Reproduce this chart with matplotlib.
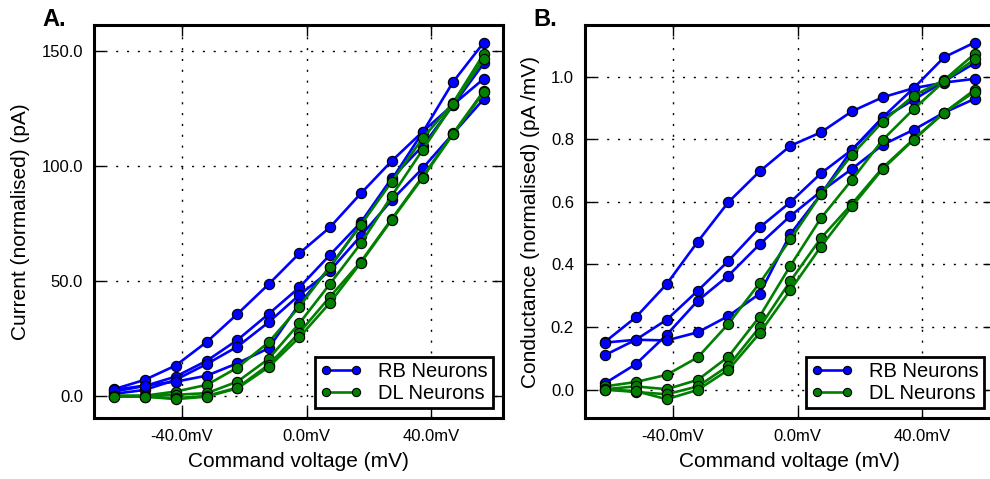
import matplotlib
matplotlib.use("Agg")
from matplotlib import pyplot as plt

plt.rcParams['font.family'] = ['Liberation Sans', 'DejaVu Sans']

# command voltages (mV)
voltaje = [-61.8, -51.9, -42.0, -32.0, -22.2, -12.2, -2.3, 7.5, 17.4, 27.3, 37.2, 47.0, 56.8]

# current (normalised), RB neurons
rb_corriente = [
    [2.9, 7.0, 13.2, 23.5, 35.6, 48.5, 62.0, 73.3, 88.0, 102.1, 114.8, 126.6, 137.8],
    [1.9, 4.3, 8.4, 15.3, 24.3, 35.6, 47.2, 61.3, 75.4, 94.6, 108.6, 126.3, 144.5],
    [0.9, 2.6, 7.0, 13.9, 21.4, 32.0, 43.9, 54.4, 69.6, 85.1, 98.9, 114.0, 129.0],
    [2.6, 4.5, 6.2, 8.8, 14.2, 20.7, 40.0, 56.0, 74.5, 94.0, 114.5, 136.5, 153.5],
]
# current (normalised), DL neurons
dl_corriente = [
    [0.0, 0.1, 1.9, 4.8, 12.3, 23.3, 38.8, 56.2, 74.3, 93.1, 111.9, 127.4, 148.6],
    [0.0, 0.0, 0.5, 1.2, 6.2, 16.1, 31.6, 48.7, 66.3, 86.9, 106.9, 126.8, 146.4],
    [0.0, -0.3, -1.0, 0.0, 3.6, 13.5, 27.5, 43.1, 58.3, 76.9, 95.3, 114.1, 132.5],
    [-0.3, -0.3, -1.4, -0.3, 3.3, 12.5, 25.5, 40.5, 57.9, 76.5, 94.8, 113.8, 131.9],
]

# conductance (normalised), RB neurons
rb_conductancia = [
    [0.152, 0.231, 0.337, 0.473, 0.599, 0.697, 0.779, 0.822, 0.889, 0.934, 0.963, 0.981, 0.993],
    [0.110, 0.159, 0.223, 0.316, 0.411, 0.518, 0.599, 0.691, 0.766, 0.866, 0.926, 0.985, 1.043],
    [0.020, 0.081, 0.175, 0.284, 0.364, 0.464, 0.555, 0.633, 0.705, 0.782, 0.830, 0.885, 0.929],
    [0.150, 0.159, 0.157, 0.183, 0.235, 0.306, 0.497, 0.624, 0.766, 0.870, 0.963, 1.062, 1.109],
]
# conductance (normalised), DL neurons
dl_conductancia = [
    [0.010, 0.024, 0.047, 0.103, 0.210, 0.340, 0.480, 0.624, 0.750, 0.856, 0.939, 0.989, 1.073],
    [0.001, 0.010, 0.001, 0.031, 0.105, 0.233, 0.396, 0.548, 0.670, 0.798, 0.896, 0.985, 1.056],
    [0.000, -0.008, -0.015, 0.010, 0.076, 0.199, 0.347, 0.484, 0.593, 0.709, 0.800, 0.885, 0.958],
    [0.000, -0.005, -0.031, -0.001, 0.063, 0.180, 0.318, 0.457, 0.585, 0.705, 0.798, 0.885, 0.952],
]

azul = '#0000ff'
verde = '#007f00'


def Grafica_panel(ax, rb, dl, yticks, ylim, ylabel, letra):
    for i in range(len(rb)):
        ax.plot(voltaje, rb[i], color=azul, lw=1.9, marker='o', ms=7.4,
                mec='black', mew=0.8, label='RB Neurons' if i == 0 else None)
    for i in range(len(dl)):
        ax.plot(voltaje, dl[i], color=verde, lw=1.9, marker='o', ms=7.4,
                mec='black', mew=0.8, label='DL Neurons' if i == 0 else None)
    ax.set_xlim(-68.2, 63.0)
    ax.set_ylim(ylim)
    ax.set_xticks([-40, 0, 40])
    ax.set_xticklabels(["%.1fmV" % v for v in [-40, 0, 40]])
    ax.set_yticks(yticks)
    ax.set_yticklabels(["%.1f" % v for v in yticks])
    ax.tick_params(direction='in', length=8, width=1, labelsize=12,
                   top=True, right=True, pad=8)
    for s in ax.spines.values():
        s.set_linewidth(2.2)
    ax.grid(True, color='black', linestyle=(0, (1.5, 6.3)), linewidth=1)
    ax.set_xlabel("Command voltage (mV)", fontsize=15, labelpad=6)
    ax.set_ylabel(ylabel, fontsize=15, labelpad=8)
    leg = ax.legend(loc='lower right', fontsize=14.5, numpoints=2,
                    handlelength=2.1, handletextpad=0.8, borderpad=0.25,
                    labelspacing=0.15, fancybox=False, framealpha=1,
                    edgecolor='black', markerscale=0.8)
    leg.get_frame().set_linewidth(2)
    ax.text(-0.127, 0.997, letra, transform=ax.transAxes, fontsize=17,
            fontweight='bold', va='baseline', ha='left')


fig = plt.figure(figsize=(9.9, 4.79), dpi=100)
axA = fig.add_axes([94 / 990, 61 / 479, 409 / 990, 393 / 479])
axB = fig.add_axes([585 / 990, 61 / 479, 409 / 990, 393 / 479])

Grafica_panel(axA, rb_corriente, dl_corriente, [0, 50, 100, 150], (-9.6, 161.2),
              "Current (normalised) (pA)", "A.")
Grafica_panel(axB, rb_conductancia, dl_conductancia, [0.0, 0.2, 0.4, 0.6, 0.8, 1.0],
              (-0.091, 1.165), "Conductance (normalised) (pA /mV)", "B.")

plt.savefig("out.png", dpi=100)
